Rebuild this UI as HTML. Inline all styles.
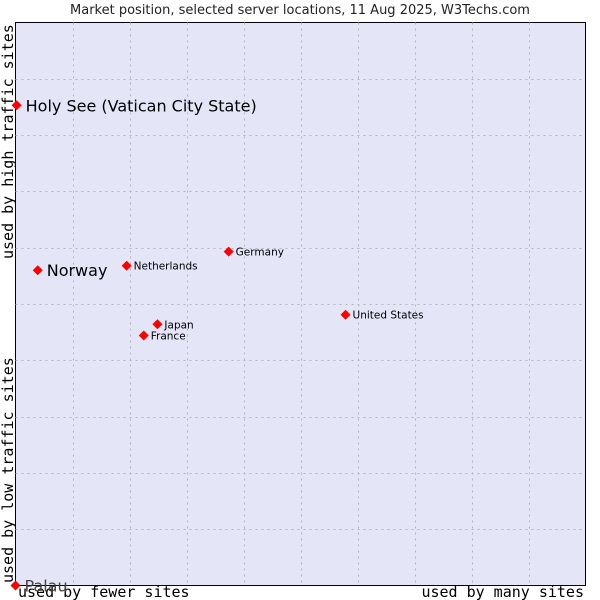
<!DOCTYPE html>
<html><head><meta charset="utf-8"><style>
body{margin:0;background:#fff;width:600px;height:600px;overflow:hidden}
svg{display:block}
</style></head><body>
<svg id="c" width="600" height="600" xmlns="http://www.w3.org/2000/svg">
<rect x="15.5" y="22.5" width="570" height="563" fill="#e4e6f8" stroke="#000"/>
<g id="grid"></g>
<text x="300" y="14" text-anchor="middle" font-family="DejaVu Sans, sans-serif" font-size="13" fill="#222">Market position, selected server locations, 11 Aug 2025, W3Techs.com</text>
<text x="18" y="597" font-family="DejaVu Sans Mono, monospace" font-size="15">used by fewer sites</text>
<text x="584" y="597" text-anchor="end" font-family="DejaVu Sans Mono, monospace" font-size="15">used by many sites</text>
<text transform="translate(13,583) rotate(-90)" font-family="DejaVu Sans Mono, monospace" font-size="15">used by low traffic sites</text>
<text transform="translate(13,259) rotate(-90)" font-family="DejaVu Sans Mono, monospace" font-size="15">used by high traffic sites</text>
<g id="pts"></g>
</svg>
<script>
const names=["Holy See (Vatican City State)","Norway","Netherlands","Germany","United States","Japan","France","Palau"];
const xs=[0.2,3.9,19.5,37.4,57.9,24.9,22.5,0];
const ys=[85.3,56,56.8,59.3,48.1,46.4,44.4,0];
const big=[true,true,false,false,false,false,false,true];
const L=15.5,T=22.5,W=570,H=563;
const sx=v=>L+v/100*W, sy=v=>T+H-v/100*H;
const NS="http://www.w3.org/2000/svg";
const g=document.getElementById('grid');
for(let i=1;i<10;i++){
 let a=document.createElementNS(NS,'line');
 
 
 let x=Math.round(sx(i*10))+0.5;
 a.setAttribute('x1',x);a.setAttribute('x2',x);a.setAttribute('y1',T);a.setAttribute('y2',T+H);
 a.setAttribute('stroke','#b4b4bc');a.setAttribute('stroke-dasharray','2,4');g.appendChild(a);
 let b=document.createElementNS(NS,'line');
 
 
 let y=Math.round(sy(i*10))+0.5;
 b.setAttribute('x1',L);b.setAttribute('x2',L+W);b.setAttribute('y1',y);b.setAttribute('y2',y);
 b.setAttribute('stroke','#b4b4bc');b.setAttribute('stroke-dasharray','2,4');g.appendChild(b);
}
const p=document.getElementById('pts');
names.forEach((n,i)=>{
 const x=sx(xs[i]),y=sy(ys[i]);
 let d=document.createElementNS(NS,'path');
 
 
 d.setAttribute('d',`M${x-5} ${y}L${x} ${y-5}L${x+5} ${y}L${x} ${y+5}Z`);
 d.setAttribute('fill','#f00');p.appendChild(d);
 let t=document.createElementNS(NS,'text');
 
 
 t.setAttribute('x',x+(big[i]?9:7));t.setAttribute('y',y+(big[i]?6:4));
 t.setAttribute('font-family','DejaVu Sans, sans-serif');
 t.setAttribute('font-size',big[i]?16:10.5);
 t.setAttribute('fill',n==="Palau"?'#444':'#000');
 t.textContent=n;p.appendChild(t);
});
</script>
</body></html>
